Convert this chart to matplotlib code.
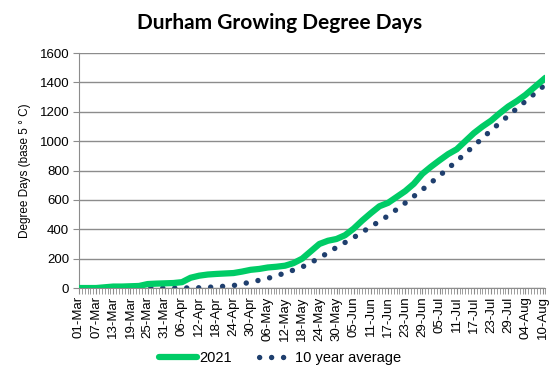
import numpy as np
import pandas as pd
import matplotlib
matplotlib.use("Agg")
import matplotlib.pyplot as plt
import matplotlib.dates as mdates
from matplotlib.lines import Line2D

# valores (cada 3 dias para 2021, cada 6 dias para el promedio)
inicio = "2021-03-01"
gdd_2021 = [0, 0, 0, 5, 10, 10, 12, 14, 27, 30, 32, 34, 40, 70, 84, 92, 96, 99, 102,
            112, 124, 130, 140, 145, 152, 170, 200, 250, 300, 322, 334, 360, 405, 460,
            510, 557, 580, 620, 660, 710, 778, 826, 870, 912, 945, 1000, 1055, 1100,
            1140, 1190, 1236, 1273, 1315, 1365, 1415, 1432]
gdd_prom = [0, 0, 0, 0, 0, 0, 0, 2, 8, 17, 40, 66, 102, 143, 204, 277, 344, 418, 492,
            579, 670, 765, 865, 968, 1074, 1173, 1272, 1370, 1385]

fechas_2021 = list(pd.date_range(inicio, periods=55, freq="3D")) + [pd.Timestamp("2021-08-11")]
fechas_prom = list(pd.date_range(inicio, periods=28, freq="6D")) + [pd.Timestamp("2021-08-11")]
ticks = pd.date_range(inicio, "2021-08-10", freq="6D")

verde = "#00CC66"
azul = "#1F3F6E"
gris = "#8C8C8C"

plt.rcParams['font.family'] = ['Liberation Sans Narrow', 'Liberation Sans', 'DejaVu Sans']

fig = plt.figure(figsize=(5.6, 3.82), dpi=100)
ax = fig.add_axes([0.141, 0.246, 0.833, 0.615])

ax.plot(fechas_2021, gdd_2021, color=verde, lw=4.5, solid_capstyle="round", zorder=3)
ax.plot(fechas_prom, gdd_prom, color=azul, lw=3.9, linestyle=(0, (0.01, 2.2)),
        dash_capstyle="round", zorder=2)

ax.set_xlim(pd.Timestamp(inicio), pd.Timestamp("2021-08-11"))
ax.set_ylim(0, 1600)
ax.set_yticks(range(0, 1601, 200))
ax.grid(axis="y", color=gris, lw=1)
ax.set_axisbelow(True)

ax.set_xticks(ticks)
ax.xaxis.set_major_formatter(mdates.DateFormatter("%d-%b"))
ax.xaxis.set_minor_locator(mdates.DayLocator())
plt.setp(ax.get_xticklabels(), rotation=90, fontsize=9.5)
plt.setp(ax.get_yticklabels(), fontsize=9.5)
ax.tick_params(axis="x", which="major", length=4, color=gris, pad=2)
ax.tick_params(axis="x", which="minor", length=4, color=gris)
ax.tick_params(axis="y", length=4, color=gris, pad=3)

for lado in ["top", "right"]:
    ax.spines[lado].set_visible(False)
for lado in ["left", "bottom"]:
    ax.spines[lado].set_color(gris)

ax.set_ylabel("Degree Days (base 5 ° C)", fontsize=8.5, labelpad=6)
fig.text(0.5, 0.94, "Durham Growing Degree Days", ha="center", va="center",
         fontsize=15, fontweight="bold", family=["Lato", "DejaVu Sans"])

# muestras de la leyenda: los puntos empiezan un poco adentro
h_verde = Line2D([], [], color=verde, lw=4.5, solid_capstyle="round")
h_azul = Line2D([], [], color=azul, lw=3.9, linestyle=(1.45, (0.01, 2.2)), dash_capstyle="round")
fig.legend([h_verde, h_azul], ["2021", "10 year average"], loc="center",
           bbox_to_anchor=(0.5, 0.063), ncol=2, frameon=False,
           fontsize=10.5, handlelength=2.6, columnspacing=1.6, handletextpad=0.15)

fig.savefig("out.png", dpi=100)
